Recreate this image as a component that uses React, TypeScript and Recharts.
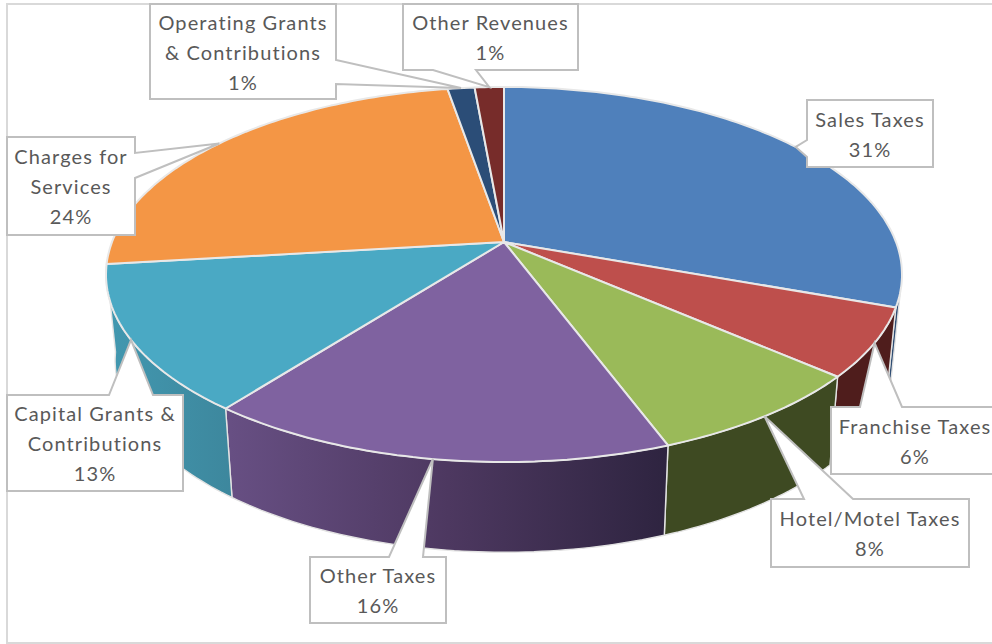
import { PieChart, Pie, Cell } from "recharts";

const categories = [
  "Sales Taxes",
  "Franchise Taxes",
  "Hotel/Motel Taxes",
  "Other Taxes",
  "Capital Grants & Contributions",
  "Charges for Services",
  "Operating Grants & Contributions",
  "Other Revenues",
];
const shares = [30.5, 5.9, 7.9, 16.2, 12.6, 24.2, 1.3, 1.4];
const labelLines = [
  ["Sales Taxes"],
  ["Franchise Taxes"],
  ["Hotel/Motel Taxes"],
  ["Other Taxes"],
  ["Capital Grants &", "Contributions"],
  ["Charges for", "Services"],
  ["Operating Grants", "& Contributions"],
  ["Other Revenues"],
];

const topColors = ["#4f80bb", "#be4f4c", "#9aba59", "#7f62a0", "#4aa9c4", "#f49645", "#2b4d77", "#772c2a"];
const wallFills = ["#2f4d73", "#4f1d1c", "#3e4a22", "url(#purpleWall)", "url(#tealWall)", "#945a2a", "#1a2e47", "#471a19"];

// callout boxes: x, y, w, h, which side the pointer leaves from, and the pointer's base along that side
const callouts = [
  { x: 807, y: 100, w: 126, h: 67, side: "left", a: 140, b: 157 },
  { x: 831, y: 407, w: 168, h: 67, side: "top", a: 860, b: 902 },
  { x: 771, y: 499, w: 198, h: 68, side: "top", a: 804, b: 853 },
  { x: 310, y: 557, w: 136, h: 66, side: "top", a: 389, b: 423 },
  { x: 7, y: 395, w: 176, h: 96, side: "top", a: 109, b: 153 },
  { x: 7, y: 137, w: 128, h: 98, side: "right", a: 153, b: 178 },
  { x: 150, y: 4, w: 186, h: 95, side: "right", a: 60, b: 84 },
  { x: 403, y: 4, w: 175, h: 66, side: "bottom", a: 433, b: 476 },
];

const CX = 504;
const CY = 242;
const RX = 392;
const RY = 181.9;
const TILT = 0.1733;
// base of the pie, slightly narrower and further down
const BASE_CY = 327;
const BASE_RX = 383;
const BASE_RY = 186.2;

const project = (clock: number, cy: number, rx: number, ry: number) => {
  const t = (clock * Math.PI) / 180;
  const sx = Math.sin(t);
  const sy = -Math.cos(t);
  const d = 1 - TILT * sy;
  return [CX + (rx * sx) / d, cy + (ry * sy) / d];
};

const arcPoints = (from: number, to: number, cy: number, rx: number, ry: number) => {
  const steps = Math.max(2, Math.ceil(Math.abs(to - from)));
  const pts: number[][] = [];
  for (let i = 0; i <= steps; i++) pts.push(project(from + ((to - from) * i) / steps, cy, rx, ry));
  return pts;
};

const toPath = (pts: number[][]) =>
  "M" + pts.map((p) => `${p[0].toFixed(1)},${p[1].toFixed(1)}`).join("L") + "Z";

const TopSlice = (props: any) => {
  const from = 90 - props.startAngle;
  const to = 90 - props.endAngle;
  const pts = [[CX, CY], ...arcPoints(from, to, CY, RX, RY)];
  return <path d={toPath(pts)} fill={props.fill} stroke="#e8e8e8" strokeWidth={2} strokeLinejoin="round" />;
};

const WallSlice = (props: any) => {
  const from = Math.max(90 - props.startAngle, 105);
  const to = Math.min(90 - props.endAngle, 262.5);
  if (to <= from) return <g />;
  const upper = arcPoints(from, to, CY, RX, RY);
  const lower = arcPoints(to, from, BASE_CY, BASE_RX, BASE_RY);
  return <path d={toPath([...upper, ...lower])} fill={props.fill} stroke="#e2e2e2" strokeWidth={1.4} strokeLinejoin="round" />;
};

const Callout = (props: any) => {
  const c = callouts[props.index];
  const tip = project(90 - props.midAngle, CY, RX, RY);
  const right = c.x + c.w;
  const bottom = c.y + c.h;
  const pts: number[][] = [[c.x, c.y]];
  if (c.side === "top") pts.push([c.a, c.y], tip, [c.b, c.y]);
  pts.push([right, c.y]);
  if (c.side === "right") pts.push([right, c.a], tip, [right, c.b]);
  pts.push([right, bottom]);
  if (c.side === "bottom") pts.push([c.b, bottom], tip, [c.a, bottom]);
  pts.push([c.x, bottom]);
  if (c.side === "left") pts.push([c.x, c.b], tip, [c.x, c.a]);

  const lines = [...labelLines[props.index], `${Math.round(shares[props.index])}%`];
  const firstY = c.y + (c.h - lines.length * 30) / 2 + 15;
  return (
    <g>
      <path d={toPath(pts)} fill="#ffffff" stroke="#bfbfbf" strokeWidth={2} strokeLinejoin="miter" />
      {lines.map((line, i) => (
        <text
          key={i}
          x={c.x + c.w / 2}
          y={firstY + i * 30}
          textAnchor="middle"
          dominantBaseline="central"
          fontFamily="Lato, 'Open Sans', sans-serif"
          fontSize={20}
          letterSpacing={1.1}
          fill="#595959"
        >
          {line}
        </text>
      ))}
    </g>
  );
};

const data = categories.map((name, i) => ({ name, value: shares[i] }));

export default function App() {
  return (
    <div style={{ position: "absolute", left: 0, top: 0, width: 992, height: 644, overflow: "hidden", background: "#fff" }}>
      <PieChart width={992} height={644} margin={{ top: 0, right: 0, bottom: 0, left: 0 }}>
        <defs>
          <linearGradient id="purpleWall" gradientUnits="userSpaceOnUse" x1={230} y1={0} x2={667} y2={0}>
            <stop offset="0" stopColor="#674f83" />
            <stop offset="0.5" stopColor="#4d3860" />
            <stop offset="1" stopColor="#2e2440" />
          </linearGradient>
          <linearGradient id="tealWall" gradientUnits="userSpaceOnUse" x1={107} y1={0} x2={232} y2={0}>
            <stop offset="0" stopColor="#4298b0" />
            <stop offset="1" stopColor="#3d879d" />
          </linearGradient>
        </defs>
        <rect x={7} y={4} width={1000} height={639} fill="none" stroke="#d9d9d9" strokeWidth={2} />
        <Pie
          data={data}
          dataKey="value"
          nameKey="name"
          cx={CX}
          cy={CY}
          outerRadius={RX}
          startAngle={90}
          endAngle={-270}
          shape={WallSlice}
          activeShape={WallSlice}
          inactiveShape={WallSlice}
          isAnimationActive={false}
          legendType="none"
        >
          {wallFills.map((fill, i) => (
            <Cell key={i} fill={fill} />
          ))}
        </Pie>
        <Pie
          data={data}
          dataKey="value"
          nameKey="name"
          cx={CX}
          cy={CY}
          outerRadius={RX}
          startAngle={90}
          endAngle={-270}
          shape={TopSlice}
          activeShape={TopSlice}
          inactiveShape={TopSlice}
          label={Callout}
          labelLine={false}
          isAnimationActive={false}
          legendType="none"
        >
          {topColors.map((fill, i) => (
            <Cell key={i} fill={fill} />
          ))}
        </Pie>
      </PieChart>
    </div>
  );
}
